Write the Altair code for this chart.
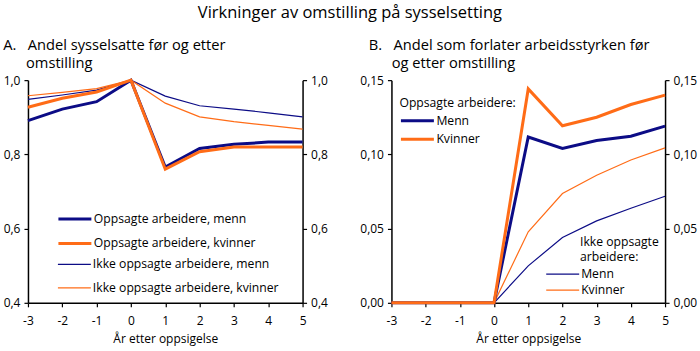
import altair as alt
import pandas as pd

years = [-3, -2, -1, 0, 1, 2, 3, 4, 5]

# Panel A: andel sysselsatte
a_opps_menn = [0.891, 0.922, 0.942, 1.0, 0.766, 0.816, 0.827, 0.833, 0.833]
a_opps_kvinner = [0.927, 0.951, 0.968, 1.0, 0.760, 0.807, 0.820, 0.820, 0.820]
a_ikke_menn = [0.948, 0.960, 0.973, 1.0, 0.957, 0.931, 0.922, 0.912, 0.901]
a_ikke_kvinner = [0.958, 0.967, 0.977, 1.0, 0.938, 0.901, 0.888, 0.878, 0.868]

# Panel B: andel som forlater arbeidsstyrken
b_opps_menn = [0, 0, 0, 0, 0.1117, 0.1040, 0.1093, 0.1122, 0.1190]
b_opps_kvinner = [0, 0, 0, 0, 0.1441, 0.1193, 0.1250, 0.1336, 0.1399]
b_ikke_menn = [0, 0, 0, 0, 0.0249, 0.0440, 0.0552, 0.0637, 0.0718]
b_ikke_kvinner = [0, 0, 0, 0, 0.0478, 0.0736, 0.0859, 0.0962, 0.1044]

NAVY = "#0c0c86"
ORANGE = "#ff6c17"
FONT = "Open Sans"
ZW = "\u200b"
NB = "\u00a0"


def long(series):
    rows = []
    for name, vals in series:
        for y, v in zip(years, vals):
            rows.append({"year": y, "value": v, "serie": name})
    return pd.DataFrame(rows)


def panel(thick, thin, ydom, fmt, yvals, title, thick_leg, thin_leg, w):
    xenc = alt.X(
        "year:Q",
        scale=alt.Scale(domain=[-3, 5], nice=False, zero=False),
        axis=alt.Axis(values=years, title="År etter oppsigelse", labelExpr="datum.value + ''",
                      labelFlush=False, labelPadding=9, titlePadding=7),
    )
    label_expr = "replace(format(datum.value, '%s'), '.', ',')" % fmt
    thin_names = [n for n, _ in thin]
    thick_names = [n for n, _ in thick]
    thin_layer = alt.Chart(long(thin)).mark_line(strokeWidth=1.2).encode(
        x=xenc,
        y=alt.Y("value:Q", scale=alt.Scale(domain=ydom, nice=False, zero=False),
                axis=alt.Axis(orient="right", values=yvals, labelExpr=label_expr, title=None)),
        color=alt.Color("serie:N", scale=alt.Scale(domain=thin_names, range=[NAVY, ORANGE]),
                        sort=thin_names, legend=alt.Legend(**thin_leg)),
    )
    thick_layer = alt.Chart(long(thick)).mark_line(strokeWidth=3).encode(
        x=xenc,
        y=alt.Y("value:Q", scale=alt.Scale(domain=ydom, nice=False, zero=False),
                axis=alt.Axis(orient="left", values=yvals, labelExpr=label_expr, title=None)),
        color=alt.Color("serie:N", scale=alt.Scale(domain=thick_names, range=[NAVY, ORANGE]),
                        sort=thick_names, legend=alt.Legend(**thick_leg)),
    )
    return alt.layer(thin_layer, thick_layer).resolve_scale(
        y="independent", color="independent"
    ).properties(width=w, height=223, title=title)


leg_common = dict(
    orient="none",
    symbolType="M-1,0H5",
    symbolSize=121,
    labelFontSize=12.2,
    labelFont=FONT,
    labelColor="#000",
    labelLimit=400,
    labelOffset=23,
    titleFont=FONT,
    titleFontSize=12.2,
    titleFontWeight="normal",
    titleColor="#000",
    titleLimit=400,
    titleLineHeight=15.5,
)

# Panel A legends
a_thick_leg = dict(leg_common, title=None, legendX=29, legendY=132, rowPadding=10.5,
                   symbolStrokeWidth=3)
a_thin_leg = dict(leg_common, title=None, legendX=29, legendY=178, rowPadding=10.5,
                  symbolStrokeWidth=1.2)

# Panel B legends
b_thick_leg = dict(leg_common, title="Oppsagte arbeidere:", legendX=8, legendY=17, rowPadding=4.5,
                   symbolStrokeWidth=3, titlePadding=4.5)
b_thin_leg = dict(leg_common, title=[ZW + NB * 11 + "Ikke oppsagte", ZW + NB * 11 + "arbeidere:"],
                  legendX=154, legendY=156, rowPadding=3, symbolStrokeWidth=1.2, titlePadding=4)

titleA = alt.TitleParams(
    text=["A." + NB * 3 + "Andel sysselsatte før og etter", ZW + NB * 6 + "omstilling"],
    anchor="start", frame="bounds", fontSize=14.7, fontWeight="normal", font=FONT,
    color="#000", offset=3, lineHeight=18.5,
)
titleB = alt.TitleParams(
    text=["B." + NB * 3 + "Andel som forlater arbeidsstyrken før", ZW + NB * 6 + "og etter omstilling"],
    anchor="start", frame="bounds", fontSize=14.7, fontWeight="normal", font=FONT,
    color="#000", offset=3, lineHeight=18.5, dx=9,
)

chartA = panel(
    [("Oppsagte arbeidere, menn", a_opps_menn), ("Oppsagte arbeidere, kvinner", a_opps_kvinner)],
    [("Ikke oppsagte arbeidere, menn", a_ikke_menn), ("Ikke oppsagte arbeidere, kvinner", a_ikke_kvinner)],
    [0.4, 1.0], ".1f", [0.4, 0.6, 0.8, 1.0], titleA, a_thick_leg, a_thin_leg, 275,
)
chartB = panel(
    [("Menn", b_opps_menn), ("Kvinner", b_opps_kvinner)],
    [("Menn", b_ikke_menn), ("Kvinner", b_ikke_kvinner)],
    [0.0, 0.15], ".2f", [0.0, 0.05, 0.10, 0.15], titleB, b_thick_leg, b_thin_leg, 274,
)

chart = alt.hconcat(chartA, chartB, spacing=32).properties(
    title=alt.TitleParams(
        "Virkninger av omstilling på sysselsetting",
        anchor="middle", fontSize=16.5, fontWeight="normal", font=FONT, color="#000", offset=17,
    ),
    padding={"left": 3, "top": 4, "right": 3, "bottom": 5},
).configure_view(stroke=None).configure_axis(
    grid=False,
    domainColor="#000",
    domainWidth=1.5,
    tickColor="#000",
    tickWidth=1.2,
    tickSize=4,
    labelFont=FONT,
    labelFontSize=12,
    labelColor="#000",
    labelPadding=4,
    titleFont=FONT,
    titleFontSize=12,
    titleFontWeight="normal",
    titleColor="#000",
).configure_title(font=FONT)

chart.save("out.html", embed_options={"renderer": "svg", "actions": False})
